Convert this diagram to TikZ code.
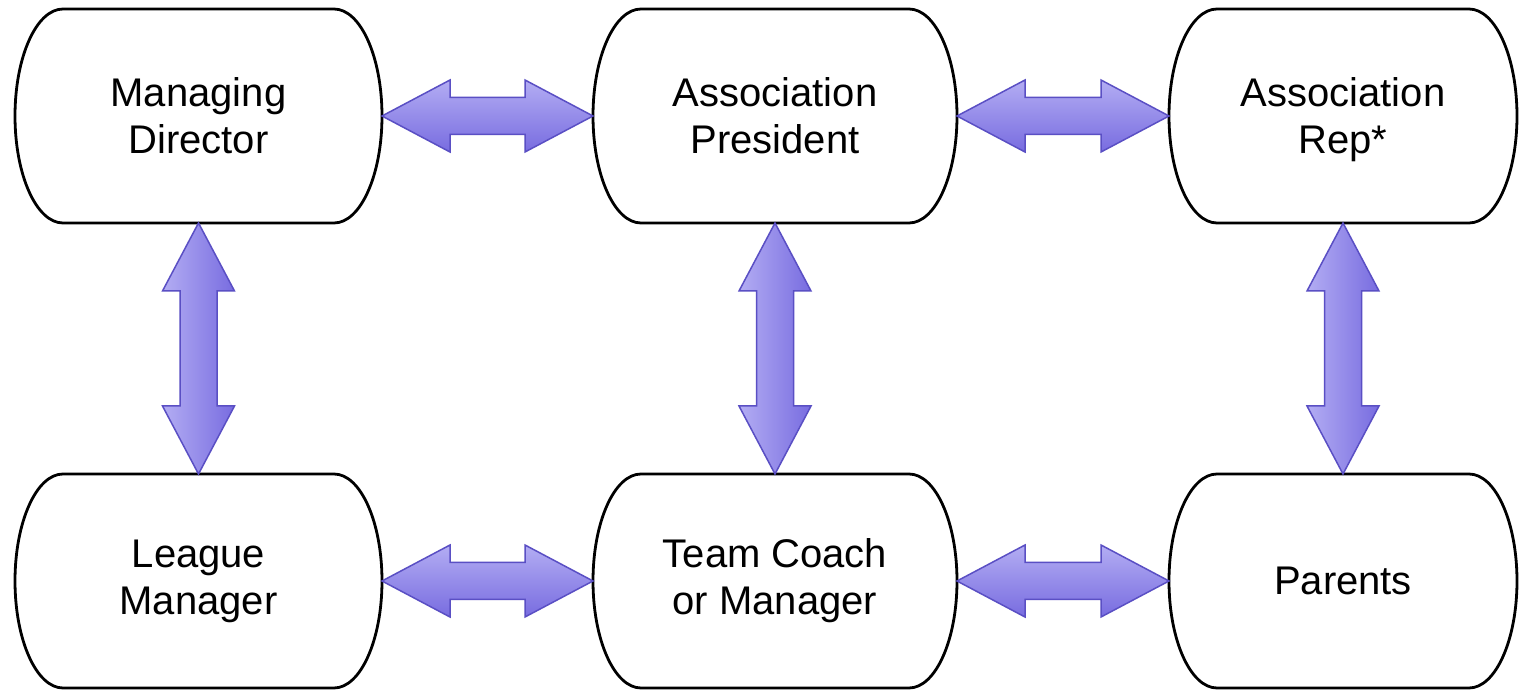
\documentclass[tikz,border=0pt]{standalone}
\usepackage{fontspec}
\setmainfont{Liberation Sans}
\usetikzlibrary{calc}
\definecolor{arrowedge}{HTML}{5A4FC4}
\definecolor{arrowtop}{HTML}{B3ADF3}
\definecolor{arrowbot}{HTML}{786CE0}
\tikzset{
  pillnode/.style={rectangle, draw=none, inner sep=0pt, outer sep=0pt,
    minimum height=214pt, align=center, font=\fontsize{40}{47}\selectfont},
  boxline/.style={draw=black, line width=2.8pt},
  harrowstyle/.style={draw=arrowedge, line width=1.5pt, top color=arrowtop,
    bottom color=arrowbot, line join=miter},
  varrowstyle/.style={draw=arrowedge, line width=1.5pt, left color=arrowtop,
    right color=arrowbot, line join=miter},
}
\newcommand{\pilloutline}[1]{%
  \draw[boxline] ($(#1.north west)+(48pt,0)$) -- ($(#1.north east)+(-48pt,0)$)
    arc[start angle=90,end angle=-90,x radius=48pt,y radius=107pt]
    -- ($(#1.south west)+(48pt,0)$)
    arc[start angle=270,end angle=90,x radius=48pt,y radius=107pt] -- cycle;}
\newcommand{\harrow}[2]{%
  \path[harrowstyle] let \p1=(#1.east), \p2=(#2.west) in
    (\x1,\y1) -- (\x1+68pt,\y1+36pt) -- (\x1+68pt,\y1+18.5pt)
    -- (\x2-68pt,\y1+18.5pt) -- (\x2-68pt,\y1+36pt) -- (\x2,\y1)
    -- (\x2-68pt,\y1-36pt) -- (\x2-68pt,\y1-18.5pt)
    -- (\x1+68pt,\y1-18.5pt) -- (\x1+68pt,\y1-36pt) -- cycle;}
\newcommand{\varrow}[2]{%
  \path[varrowstyle] let \p1=(#1.south), \p2=(#2.north) in
    (\x1,\y1) -- (\x1+36pt,\y1-68pt) -- (\x1+18.5pt,\y1-68pt)
    -- (\x1+18.5pt,\y2+68pt) -- (\x1+36pt,\y2+68pt) -- (\x1,\y2)
    -- (\x1-36pt,\y2+68pt) -- (\x1-18.5pt,\y2+68pt)
    -- (\x1-18.5pt,\y1-68pt) -- (\x1-36pt,\y1-68pt) -- cycle;}
\begin{document}
\begin{tikzpicture}[x=1pt,y=1pt]
  \fill[white] (0,0) rectangle (1519,691);
  \useasboundingbox (0,0) rectangle (1519,691);

  \node[pillnode, minimum width=367pt] (md) at (198.5,575) {Managing\\Director};
  \node[pillnode, minimum width=364pt] (ap) at (775,575) {Association\\President};
  \node[pillnode, minimum width=348pt] (ar) at (1343,575) {Association\\Re\smash{p}*};
  \node[pillnode, minimum width=367pt] (lm) at (198.5,110) {League\\Manager};
  \node[pillnode, minimum width=364pt] (tc) at (775,110) {Team Coach\\or Manager};
  \node[pillnode, minimum width=348pt] (pa) at (1343,110) {Parents};

  \pilloutline{md}
  \pilloutline{ap}
  \pilloutline{ar}
  \pilloutline{lm}
  \pilloutline{tc}
  \pilloutline{pa}

  \harrow{md}{ap}
  \harrow{ap}{ar}
  \harrow{lm}{tc}
  \harrow{tc}{pa}
  \varrow{md}{lm}
  \varrow{ap}{tc}
  \varrow{ar}{pa}
\end{tikzpicture}
\end{document}
